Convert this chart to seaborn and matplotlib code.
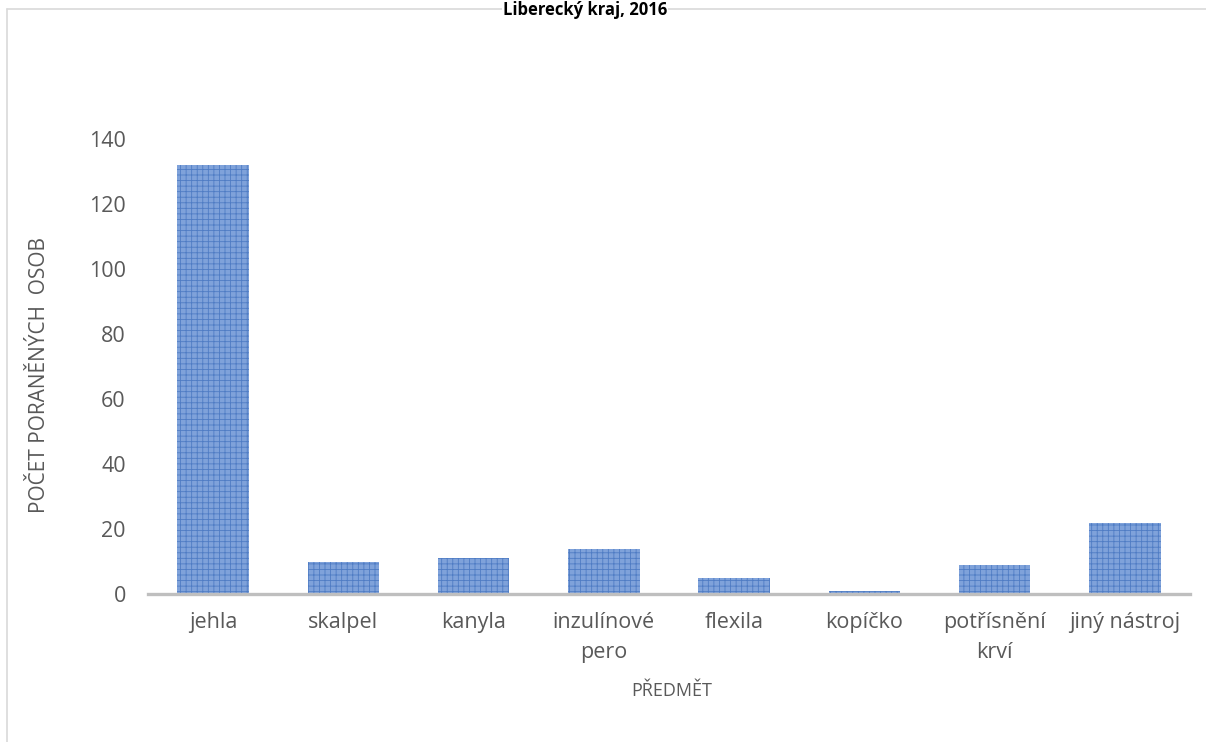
import matplotlib
matplotlib.use("Agg")
import matplotlib.pyplot as plt
from matplotlib.lines import Line2D
import seaborn as sns
import pandas as pd

# values
predmety = ["jehla", "skalpel", "kanyla", "inzulínové\npero", "flexila",
            "kopíčko", "potřísnění\nkrví", "jiný nástroj"]
pocty = [132, 10, 11, 14, 5, 1, 9, 22]
y_ticks = [0, 20, 40, 60, 80, 100, 120, 140]

title = "Liberecký kraj, 2016"
x_label = "PŘEDMĚT"
y_label = "POČET PORANĚNÝCH  OSOB"

sns.set_style("white")
plt.rcParams["font.family"] = ["Open Sans", "DejaVu Sans"]
plt.rcParams["hatch.linewidth"] = 0.6

W, H = 1206, 742
fig = plt.figure(figsize=(W / 100, H / 100), dpi=100)
ax = fig.add_axes([148 / W, 1 - 594 / H, (1190 - 148) / W, (594 - 139) / H])

df = pd.DataFrame({"predmet": predmety, "pocet": pocty})
sns.barplot(data=df, x="predmet", y="pocet", ax=ax, color="#7fa2da",
            width=0.55, saturation=1)
for p in ax.patches:
    p.set_hatch("+++")
    p.set_edgecolor("#4f7cc4")
    p.set_linewidth(0)

ax.set_ylim(0, 140)
ax.set_yticks(y_ticks)
ax.set_xlim(-0.5, len(predmety) - 0.5)
text_col = "#595959"
ax.tick_params(axis="y", length=0, pad=16, labelsize=15.5, labelcolor=text_col)
ax.tick_params(axis="x", length=0, pad=13, labelsize=15.5, labelcolor=text_col)
for lbl in ax.get_xticklabels():
    lbl.set_linespacing(1.55)
    lbl.set_va("top")

for s in ["top", "right", "left"]:
    ax.spines[s].set_visible(False)
ax.spines["bottom"].set_color("#bfbfbf")
ax.spines["bottom"].set_linewidth(2.4)

ax.set_xlabel("")
ax.set_ylabel("")
fig.text(672 / W, 1 - 691 / H, x_label, ha="center", va="center",
         fontsize=13, color=text_col)
fig.text(40 / W, 1 - 375 / H, y_label, ha="center", va="center",
         rotation=90, fontsize=15, color=text_col)

# chart frame (only top and left edges are inside the picture)
fig.add_artist(Line2D([7 / W, 1.0], [1 - 9 / H, 1 - 9 / H],
                      transform=fig.transFigure, color="#d9d9d9", lw=1.2))
fig.add_artist(Line2D([7 / W, 7 / W], [1 - 9 / H, 0],
                      transform=fig.transFigure, color="#d9d9d9", lw=1.2))

fig.text(585 / W, 1 - 1 / H, title, ha="center", va="top",
         fontsize=12, fontweight="bold", color="#000000",
         bbox=dict(facecolor="white", edgecolor="none", pad=1))

fig.savefig("out.png", dpi=100)
